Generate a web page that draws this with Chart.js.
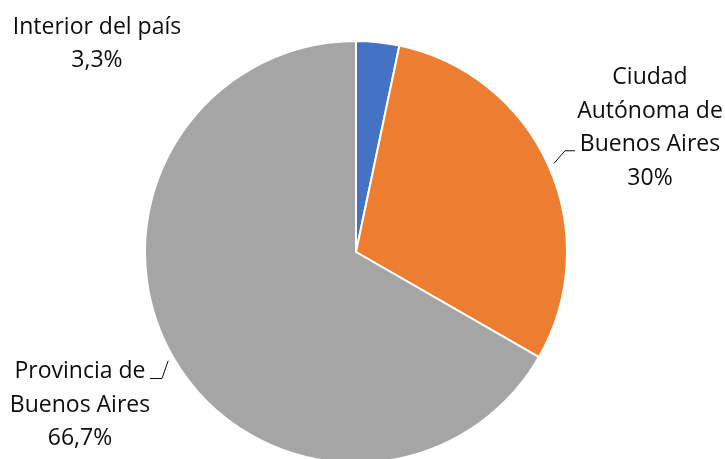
<!DOCTYPE html>
<html>
<head>
<meta charset="utf-8">
<script src="https://cdn.jsdelivr.net/npm/chart.js@4"></script>
<style>
  html, body { margin: 0; padding: 0; background: #fff; overflow: hidden; }
  #wrap { width: 725px; height: 464px; }
</style>
</head>
<body>
<div id="wrap"><canvas id="chart-1"></canvas></div>
<script>
const labels = [["Interior del país"], ["Ciudad", "Autónoma de", "Buenos Aires"], ["Provincia de", "Buenos Aires"]];
const values = [3.3, 30, 66.7];
const valueText = ["3,3%", "30%", "66,7%"];
const colors = ['#4472C4', '#ED7D31', '#A5A5A5'];

// label layout per slice: text centre relative to the pie and an optional leader line
const labelLayout = [
    { tx: -259, ty: -208, leader: false },
    { tx: 294, ty: -124, leader: true, elbowX: 565, endX: 575, side: 'right' },
    { tx: -276, ty: 153, leader: true, elbowX: 162, endX: 150, side: 'left' }
];

const outsideLabels = {
    id: 'outsideLabels',
    afterDraw(chart) {
        const ctx = chart.ctx;
        const meta = chart.getDatasetMeta(0);
        ctx.save();
        ctx.font = '23px "Open Sans", sans-serif';
        ctx.fillStyle = '#0d0d0d';
        ctx.textAlign = 'center';
        ctx.textBaseline = 'middle';
        const lh = 33.5;
        meta.data.forEach((arc, i) => {
            const L = labelLayout[i];
            const lines = labels[i].concat([valueText[i]]);
            const cx = arc.x + L.tx;
            const top = arc.y + L.ty - (lines.length - 1) * lh / 2;
            lines.forEach((t, k) => ctx.fillText(t, cx, top + k * lh));
            if (L.leader) {
                const mid = (arc.startAngle + arc.endAngle) / 2;
                const r = arc.outerRadius + 6;
                const sx = arc.x + Math.cos(mid) * r;
                const sy = arc.y + Math.sin(mid) * r;
                // horizontal segment sits next to the line before the value
                const ly = top + (lines.length - 2) * lh + (L.side === 'left' ? -lh + 7 : 6);
                ctx.strokeStyle = '#0d0d0d';
                ctx.lineWidth = 1;
                ctx.beginPath();
                ctx.moveTo(sx, sy);
                ctx.lineTo(L.elbowX, ly);
                ctx.lineTo(L.endX, ly);
                ctx.stroke();
            }
        });
        ctx.restore();
    }
};

const ctx1 = document.getElementById('chart-1');
new Chart(ctx1, {
    type: 'pie',
    data: {
        labels: labels.map(l => l.join(' ')),
        datasets: [{
            data: values,
            backgroundColor: colors,
            borderColor: '#ffffff',
            borderWidth: 2
        }]
    },
    options: {
        maintainAspectRatio: false,
        responsive: true,
        animation: false,
        layout: { padding: { top: 40, bottom: 0, left: 0, right: 13 } },
        plugins: {
            legend: { display: false },
            tooltip: { enabled: false }
        }
    },
    plugins: [outsideLabels]
});
</script>
</body>
</html>
